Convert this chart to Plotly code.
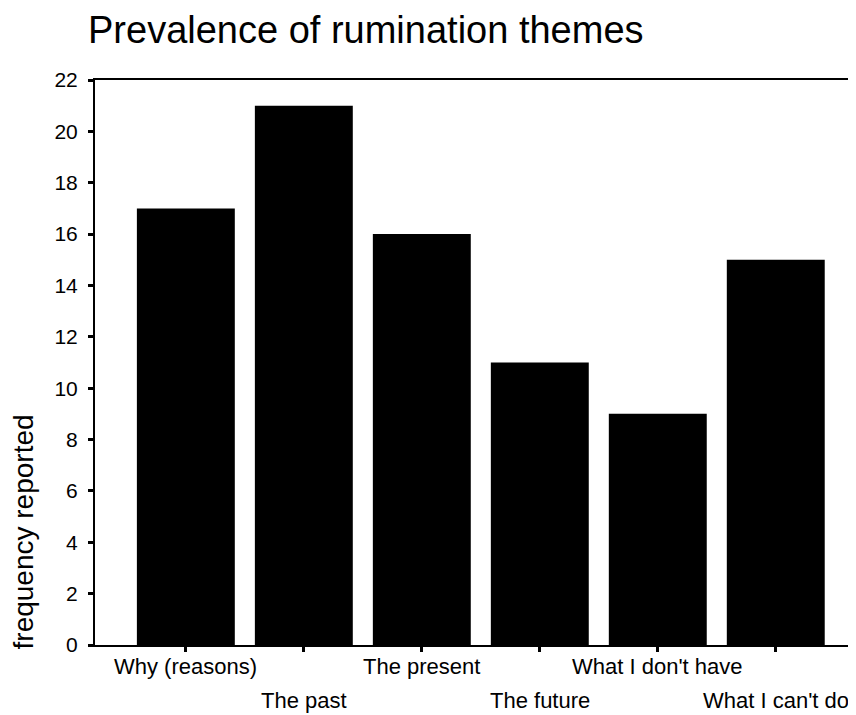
import plotly.graph_objects as go

categories = ["Why (reasons)", "The past", "The present", "The future",
              "What I don't have", "What I can't do"]
frequencies = [17, 21, 16, 11, 9, 15]
y_ticks = list(range(0, 23, 2))

FONT = "Liberation Sans, Arial, Helvetica, sans-serif"

# The page body adds an 8px offset; the figure is sized to fill the rest.
W, H = 848, 707

fig = go.Figure()
fig.add_trace(go.Bar(
    x=list(range(len(categories))),
    y=frequencies,
    marker=dict(color="black", line=dict(width=0)),
    hoverinfo="skip",
))

annotations = []
for i, cat in enumerate(categories):
    annotations.append(dict(
        x=i, y=0, xref="x", yref="y", text=cat, showarrow=False,
        xanchor="center", yanchor="top",
        yshift=-7 if i % 2 == 0 else -41,
        font=dict(family=FONT, size=22, color="black"),
    ))
annotations.append(dict(
    x=-0.094, y=0.2, xref="paper", yref="paper", text="frequency reported",
    showarrow=False, textangle=-90, xanchor="center", yanchor="middle",
    font=dict(family=FONT, size=28, color="black"),
))

fig.update_layout(
    width=W, height=H,
    margin=dict(l=87, r=0, t=72, b=70, autoexpand=False),
    paper_bgcolor="white", plot_bgcolor="white",
    showlegend=False,
    bargap=0.17,
    title=dict(text="Prevalence of rumination themes",
               font=dict(family=FONT, size=38, color="black"),
               xref="container", x=80 / W, xanchor="left",
               yref="container", y=1 - 22 / H, yanchor="middle"),
    xaxis=dict(range=[-0.77, 5.68], tickvals=list(range(len(categories))),
               showticklabels=False, ticks="outside", ticklen=5, tickwidth=3,
               tickcolor="black", showline=True, linecolor="black", linewidth=2,
               mirror=True, showgrid=False, zeroline=False, fixedrange=True),
    yaxis=dict(range=[0, 22], tickvals=y_ticks, ticks="outside", ticklen=5,
               tickwidth=3, tickcolor="black", showline=True, linecolor="black",
               linewidth=2, showgrid=False, zeroline=False,
               ticklabelstandoff=6,
               tickfont=dict(family=FONT, size=21, color="black")),
    annotations=annotations,
)

fig.write_html("out.html")
